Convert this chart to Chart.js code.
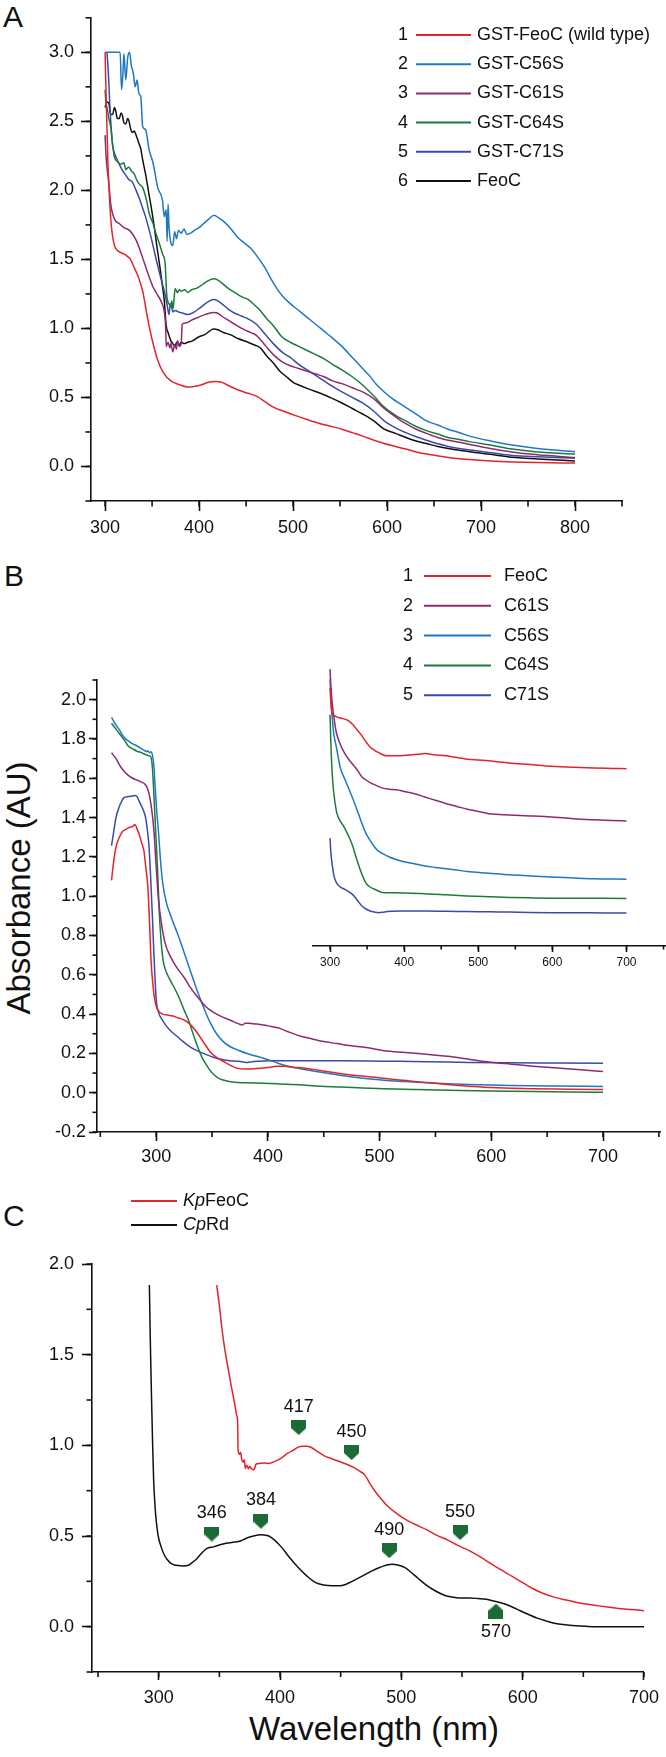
<!DOCTYPE html>
<html>
<head>
<meta charset="utf-8">
<script src="https://cdn.jsdelivr.net/npm/chart.js@4.4.1/dist/chart.umd.min.js"></script>
<style>
  body { margin: 0; width: 666px; height: 1757px; background: #fff; position: relative; overflow: hidden;
         font-family: 'Liberation Sans', Arial, sans-serif; color: #111; }
  canvas { position: absolute; }
  .panel { position: absolute; font-size: 30px; line-height: 30px; }
  .title { position: absolute; font-size: 33px; line-height: 40px; text-align: center; white-space: nowrap; }
</style>
</head>
<body>
<div class="panel" style="left:3px;top:2px">A</div>
<div class="panel" style="left:4px;top:561px">B</div>
<div class="panel" style="left:3px;top:1201px">C</div>
<div class="title" style="left:-131px;top:868px;width:300px;transform:rotate(-90deg)">Absorbance (AU)</div>
<div class="title" style="left:124px;top:1709px;width:500px">Wavelength (nm)</div>

<canvas id="chartA" width="666" height="560" style="left:0;top:0"></canvas>
<canvas id="chartB" width="666" height="620" style="left:0;top:560px"></canvas>
<canvas id="chartInset" width="416" height="340" style="left:250px;top:640px"></canvas>
<canvas id="chartC" width="666" height="577" style="left:0;top:1180px"></canvas>

<script>
// ---- panel A: GST fusions, [wavelength nm, absorbance] ----
var aLabels = ['GST-FeoC (wild type)', 'GST-C56S', 'GST-C61S', 'GST-C64S', 'GST-C71S', 'FeoC'];
var aWildType = [[300,3.0],[301,2.7],[303,2.2],[305,1.9],[307,1.72],[310,1.6],[314,1.56],[320,1.54],[324,1.52],[327,1.50],[331,1.44],[335,1.38],[340,1.27],[345,1.08],[350,0.92],[356,0.77],[362,0.68],[370,0.62],[380,0.59],[388,0.575],[395,0.58],[402,0.59],[410,0.61],[417,0.615],[424,0.61],[433,0.58],[443,0.55],[452,0.53],[461,0.51],[470,0.47],[479,0.43],[490,0.40],[502,0.37],[515,0.34],[529,0.31],[541,0.29],[552,0.27],[563,0.245],[574,0.22],[586,0.19],[597,0.166],[609,0.145],[620,0.126],[631,0.105],[642,0.09],[665,0.065],[688,0.05],[710,0.04],[733,0.033],[760,0.028],[800,0.025]];
var aC56S = [[300,3.0],[302,3.0],[305,3.0],[309,3.0],[313,3.0],[316,3.0],[317.5,2.73],[319,2.85],[320,2.99],[322,2.8],[324,2.96],[326,3.0],[328,2.9],[330,2.85],[332,2.75],[334,2.8],[336,2.7],[338,2.68],[340,2.46],[343,2.44],[347,2.29],[351,2.2],[356,2.02],[361,1.93],[363,1.81],[365,1.86],[366,1.63],[367,1.9],[368,1.74],[370,1.62],[372,1.60],[374,1.7],[376,1.65],[378,1.71],[381,1.69],[384,1.72],[387,1.68],[391,1.69],[395,1.71],[400,1.73],[405,1.76],[410,1.79],[416,1.82],[421,1.80],[427,1.77],[434,1.72],[441,1.66],[448,1.62],[455,1.58],[462,1.52],[470,1.44],[479,1.33],[488,1.24],[497,1.18],[506,1.13],[515,1.08],[524,1.03],[533,0.98],[542,0.93],[552,0.87],[563,0.79],[574,0.71],[581,0.66],[588,0.60],[597,0.54],[606,0.49],[615,0.45],[624,0.41],[633,0.37],[642,0.33],[654,0.30],[665,0.27],[677,0.245],[688,0.22],[710,0.185],[733,0.155],[760,0.13],[800,0.107]];
var aC61S = [[300,2.40],[301,2.25],[304,2.05],[306,1.9],[308,1.83],[311,1.78],[315,1.76],[320,1.73],[326,1.71],[333,1.64],[337,1.57],[342,1.47],[346,1.39],[351,1.30],[356,1.24],[360,1.19],[363,1.12],[364.5,1.0],[365,0.87],[367,0.9],[369,0.86],[370,0.89],[372,0.83],[374,0.88],[376,0.85],[377,0.91],[379,0.87],[381,0.89],[382,1.03],[386,1.04],[392,1.06],[399,1.08],[406,1.10],[415,1.115],[420,1.11],[424,1.09],[431,1.06],[438,1.03],[447,0.995],[455,0.97],[461,0.95],[470,0.88],[479,0.81],[488,0.76],[497,0.73],[506,0.71],[515,0.69],[524,0.67],[533,0.65],[542,0.62],[552,0.60],[563,0.57],[574,0.54],[586,0.49],[597,0.42],[609,0.36],[620,0.31],[631,0.27],[642,0.24],[654,0.21],[665,0.19],[677,0.175],[688,0.16],[710,0.13],[733,0.105],[760,0.085],[800,0.065]];
var aC64S = [[300,2.73],[301,2.62],[302,2.6],[304,2.52],[306,2.46],[308,2.33],[310,2.24],[313,2.21],[317,2.19],[320,2.2],[322,2.15],[325,2.17],[328,2.14],[331,2.12],[334,2.07],[337,2.04],[340,2.02],[344,1.93],[347,1.83],[351,1.76],[354,1.69],[358,1.61],[361,1.54],[364,1.46],[365.5,1.25],[367,1.19],[369,1.17],[370,1.155],[371,1.2],[372,1.14],[373,1.18],[374.5,1.29],[377,1.26],[379,1.28],[381,1.27],[385,1.28],[388,1.26],[392,1.28],[397,1.29],[402,1.31],[406,1.33],[411,1.35],[416,1.36],[420,1.35],[424,1.33],[431,1.29],[438,1.26],[445,1.23],[452,1.21],[459,1.17],[465,1.13],[472,1.07],[479,1.02],[488,0.94],[497,0.90],[506,0.87],[515,0.84],[524,0.81],[533,0.78],[542,0.74],[552,0.70],[563,0.65],[574,0.59],[586,0.51],[597,0.43],[609,0.37],[620,0.33],[631,0.29],[642,0.26],[654,0.235],[665,0.21],[677,0.195],[688,0.18],[710,0.155],[733,0.126],[760,0.105],[800,0.09]];
var aC71S = [[302,3.0],[303.5,2.85],[305,2.62],[306,2.5],[308,2.33],[310,2.27],[313,2.22],[315,2.19],[318,2.15],[322,2.11],[325,2.08],[329,2.06],[333,2.0],[336,1.95],[340,1.87],[343,1.81],[347,1.71],[351,1.60],[354,1.51],[358,1.40],[361,1.32],[363,1.27],[366,1.17],[368,1.10],[369,1.16],[370,1.18],[372,1.12],[374.5,1.13],[378,1.12],[383,1.11],[388,1.10],[395,1.12],[402,1.155],[409,1.19],[415,1.21],[420,1.20],[424,1.18],[431,1.14],[438,1.11],[445,1.09],[452,1.07],[461,1.03],[470,0.96],[479,0.89],[488,0.83],[497,0.79],[506,0.74],[515,0.70],[524,0.66],[533,0.62],[542,0.58],[552,0.54],[563,0.50],[574,0.46],[586,0.40],[597,0.33],[609,0.28],[620,0.245],[631,0.215],[642,0.19],[654,0.165],[665,0.145],[677,0.13],[688,0.12],[710,0.1],[733,0.08],[760,0.07],[800,0.06]];
var aFeoC = [[300,2.6],[302,2.64],[304,2.63],[306,2.55],[308,2.55],[310,2.6],[311.5,2.57],[313,2.52],[315,2.52],[317,2.56],[318.5,2.54],[320,2.49],[322,2.48],[324,2.52],[325.5,2.50],[327,2.45],[329,2.42],[331,2.43],[333,2.40],[336,2.34],[338,2.30],[340,2.22],[343,2.12],[346,2.0],[349,1.88],[352,1.75],[355,1.6],[358,1.46],[361,1.31],[363,1.20],[365,1.02],[367,0.97],[370,0.91],[372,0.89],[374.5,0.87],[376,0.9],[379,0.88],[381,0.9],[384,0.89],[388,0.9],[393,0.91],[400,0.94],[406,0.955],[411,0.98],[415,0.995],[420,0.99],[426,0.97],[433,0.955],[442,0.925],[452,0.90],[459,0.88],[465,0.86],[472,0.80],[479,0.75],[486,0.69],[493,0.65],[500,0.61],[506,0.59],[517,0.56],[529,0.53],[541,0.495],[552,0.46],[563,0.42],[574,0.38],[586,0.33],[597,0.27],[609,0.24],[620,0.21],[631,0.185],[642,0.166],[654,0.145],[665,0.13],[677,0.118],[688,0.107],[710,0.088],[733,0.067],[760,0.055],[800,0.04]];

// ---- panel B: untagged proteins ----
var bLabels = ['FeoC', 'C61S', 'C56S', 'C64S', 'C71S'];
var bFeoC = [[260,1.08],[262,1.18],[264,1.25],[267,1.30],[270,1.33],[273,1.34],[276,1.35],[279,1.355],[281,1.365],[283,1.34],[285,1.31],[287,1.27],[289,1.23],[291,1.13],[292.5,1.05],[294,0.87],[295,0.72],[296,0.62],[298,0.50],[300,0.44],[303,0.41],[306,0.40],[310,0.395],[315,0.39],[320,0.38],[325,0.37],[330,0.35],[336,0.31],[342,0.26],[348,0.21],[354,0.18],[360,0.16],[366,0.14],[372,0.125],[380,0.12],[390,0.123],[400,0.128],[408,0.135],[415,0.134],[422,0.13],[435,0.123],[450,0.11],[466,0.096],[481,0.086],[496,0.078],[511,0.068],[527,0.06],[545,0.05],[561,0.042],[580,0.033],[599,0.027],[618,0.023],[637,0.02],[670,0.018],[700,0.016]];
var bC61S = [[260,1.73],[264,1.70],[268,1.66],[272,1.63],[275,1.615],[279,1.60],[283,1.59],[287,1.58],[290,1.57],[292,1.55],[294,1.51],[296,1.44],[298,1.33],[300,1.15],[302,0.985],[305,0.85],[308,0.76],[313,0.69],[318,0.64],[325,0.586],[330,0.54],[336,0.495],[344,0.44],[351,0.41],[359,0.386],[366,0.37],[374,0.35],[377,0.345],[380,0.354],[385,0.352],[390,0.35],[400,0.34],[409,0.33],[418,0.31],[428,0.29],[439,0.275],[450,0.26],[462,0.25],[473,0.24],[488,0.23],[504,0.214],[523,0.205],[542,0.196],[561,0.185],[580,0.17],[599,0.155],[618,0.145],[637,0.135],[656,0.127],[680,0.117],[700,0.108]];
var bC56S = [[260,1.91],[263,1.88],[267,1.846],[271,1.81],[275,1.79],[279,1.775],[283,1.764],[287,1.75],[290,1.74],[291.5,1.735],[292.5,1.74],[294,1.73],[295.5,1.735],[296.5,1.72],[298,1.66],[299,1.56],[300.5,1.43],[302,1.33],[304,1.17],[306,1.06],[309,0.97],[313,0.9],[317,0.84],[321,0.78],[325,0.713],[330,0.63],[336,0.53],[342,0.44],[348,0.36],[354,0.30],[360,0.26],[366,0.235],[374,0.215],[382,0.198],[390,0.185],[400,0.168],[409,0.15],[418,0.135],[428,0.123],[446,0.105],[466,0.087],[485,0.073],[504,0.063],[523,0.057],[542,0.051],[561,0.046],[580,0.042],[618,0.037],[660,0.034],[700,0.032]];
var bC64S = [[260,1.88],[264,1.85],[268,1.82],[272,1.79],[275,1.764],[279,1.75],[283,1.737],[287,1.73],[290.5,1.72],[293,1.715],[295,1.71],[296.5,1.66],[298,1.51],[299.5,1.33],[301,1.166],[302.5,0.95],[304,0.80],[306,0.68],[308,0.63],[313,0.568],[317,0.525],[321,0.477],[325,0.42],[329,0.368],[333,0.3],[337,0.235],[341,0.18],[344,0.15],[348,0.115],[352,0.09],[357,0.07],[363,0.06],[370,0.053],[380,0.05],[395,0.048],[409,0.045],[428,0.04],[447,0.033],[466,0.029],[485,0.024],[504,0.02],[533,0.016],[561,0.013],[599,0.009],[637,0.006],[670,0.004],[700,0.002]];
var bC71S = [[260,1.257],[262,1.33],[264,1.40],[266,1.44],[268,1.47],[271,1.50],[275,1.507],[279,1.51],[281,1.512],[283,1.505],[285,1.48],[287,1.456],[289,1.43],[290.5,1.40],[292,1.34],[293.5,1.257],[295,1.1],[296.6,0.894],[298,0.7],[300,0.477],[302,0.41],[305.7,0.368],[309,0.34],[313,0.314],[318,0.29],[323,0.265],[328.6,0.24],[336,0.215],[344,0.196],[351,0.18],[359,0.169],[366,0.163],[374,0.16],[379,0.155],[382,0.154],[386,0.158],[392,0.16],[400,0.162],[412,0.163],[428,0.163],[466,0.162],[504,0.16],[542,0.158],[580,0.154],[618,0.152],[660,0.151],[700,0.15]];

// ---- panel B inset (offset traces, unlabelled y) ----
var insFeoC = [[300,2.32],[301,2.2],[303,2.08],[306,2.07],[309,2.06],[314,2.05],[320,2.04],[326,2.02],[331,1.99],[337,1.94],[343,1.89],[348,1.84],[354,1.79],[360,1.76],[365.5,1.74],[371,1.72],[377,1.71],[385,1.71],[394,1.71],[402,1.715],[411,1.72],[420,1.725],[428,1.73],[440,1.72],[457,1.71],[471,1.695],[485,1.68],[500,1.672],[514,1.665],[528,1.655],[542,1.646],[570,1.632],[599,1.617],[628,1.607],[656,1.60],[680,1.597],[700,1.595]];
var insC61S = [[300,2.49],[301,2.35],[303,2.18],[306,2.02],[308.5,1.92],[314,1.81],[320,1.73],[326,1.67],[331,1.63],[337,1.58],[343,1.52],[348,1.495],[354,1.47],[362,1.445],[371,1.42],[380,1.41],[390,1.405],[400,1.39],[414,1.37],[428,1.34],[442,1.31],[457,1.28],[471,1.255],[485,1.23],[500,1.21],[514,1.19],[528,1.183],[542,1.178],[570,1.17],[599,1.16],[628,1.145],[656,1.135],[680,1.128],[700,1.125]];
var insC56S = [[300,2.40],[301,2.25],[303,2.05],[305,1.91],[308.5,1.79],[314,1.60],[320,1.50],[325.6,1.41],[331,1.32],[337,1.215],[342,1.12],[348,1.02],[354,0.95],[360,0.89],[365,0.855],[371,0.83],[380,0.80],[388,0.78],[396,0.765],[405,0.75],[417,0.735],[428,0.72],[442,0.707],[457,0.695],[471,0.683],[485,0.67],[514,0.655],[542,0.64],[570,0.63],[599,0.62],[628,0.612],[656,0.605],[700,0.60]];
var insC64S = [[300,2.08],[301,1.85],[303,1.54],[305,1.38],[308.5,1.215],[311,1.16],[314,1.12],[318,1.08],[322.8,1.02],[327,0.96],[331,0.89],[335,0.80],[340,0.70],[344,0.63],[348,0.57],[353,0.535],[360,0.51],[365,0.495],[371,0.48],[385,0.478],[400,0.476],[428,0.47],[457,0.46],[485,0.45],[514,0.443],[542,0.437],[570,0.433],[599,0.43],[650,0.429],[700,0.428]];
var insC71S = [[300,0.97],[301,0.85],[303,0.73],[305,0.64],[308.5,0.57],[314,0.53],[320,0.51],[326,0.485],[331,0.46],[337,0.41],[343,0.36],[348,0.335],[354,0.315],[360,0.305],[365.5,0.30],[371,0.303],[377,0.31],[385,0.313],[394,0.315],[428,0.315],[457,0.312],[485,0.31],[514,0.307],[542,0.305],[570,0.302],[599,0.30],[650,0.298],[700,0.296]];

// ---- panel C: KpFeoC vs CpRd ----
var cLabels = [['Kp', 'FeoC'], ['Cp', 'Rd']];
var cKpFeoC = [[347.8,1.884],[350,1.77],[352,1.65],[354,1.55],[357.3,1.42],[360,1.32],[362.6,1.23],[364.5,1.16],[365,1.14],[365.4,0.98],[366.5,0.95],[367.5,0.96],[368.5,0.92],[369.6,0.907],[370.5,0.92],[371.4,0.872],[372.5,0.89],[374,0.87],[375,0.884],[376.5,0.87],[378.4,0.865],[379.5,0.88],[380,0.895],[383,0.9],[387,0.902],[391,0.9],[394,0.907],[398,0.918],[401,0.93],[406,0.955],[411.8,0.977],[415,0.99],[418.8,0.995],[422,0.995],[425.8,0.988],[431,0.965],[436.4,0.942],[443,0.925],[450.4,0.907],[456,0.893],[461,0.877],[465,0.86],[469.8,0.837],[474,0.79],[478.6,0.744],[484,0.7],[489,0.663],[496,0.625],[503,0.593],[511,0.565],[520.7,0.535],[529,0.505],[538.3,0.477],[547,0.447],[555.9,0.419],[565,0.385],[573.5,0.349],[582,0.314],[591,0.279],[600,0.243],[608.6,0.209],[617,0.183],[626,0.163],[635,0.148],[643.8,0.135],[652,0.125],[661.3,0.116],[670,0.108],[679,0.1],[690,0.094],[700,0.088]];
var cCpRd = [[292.3,1.884],[293,1.6],[294,1.28],[295,1.0],[295.8,0.81],[297,0.66],[299.3,0.51],[302,0.44],[304.6,0.395],[307,0.37],[309.8,0.35],[313,0.34],[316.9,0.337],[320,0.335],[324,0.337],[327,0.35],[331,0.372],[334,0.395],[338,0.423],[341,0.435],[345,0.44],[350,0.45],[355.5,0.46],[361,0.465],[366,0.47],[370,0.48],[373,0.49],[378,0.5],[383.7,0.507],[387,0.505],[390.7,0.5],[395,0.48],[401,0.44],[408,0.38],[415,0.326],[422,0.28],[429,0.244],[436,0.23],[443.4,0.226],[449,0.226],[454,0.233],[461,0.255],[468,0.28],[475,0.305],[482,0.326],[488,0.34],[492.6,0.344],[497,0.34],[503,0.326],[508,0.3],[513.7,0.267],[520,0.232],[527.8,0.198],[535,0.175],[541.8,0.163],[548,0.158],[555.9,0.158],[563,0.155],[570,0.151],[577,0.14],[584,0.128],[591,0.11],[598,0.088],[605,0.067],[612,0.047],[619,0.032],[626,0.019],[635,0.01],[643.8,0.005],[652,0.002],[661,0],[680,0],[700,0]];
var peakNames = ['346', '384', '417', '450', '490', '550', '570'];
var peakX = [343.8, 384.3, 415.4, 459, 490, 548.4, 578];
var peakY = [0.511, 0.581, 1.098, 0.96, 0.419, 0.519, 0.086];
var peakUp = [false, false, false, false, false, false, true];

var RED = '#e3242b', BLUE = '#1f78c3', PURPLE = '#8c2b6f', GREEN = '#1d7a3e', VIOLET = '#3b4aa6', BLACK = '#111111';
var FONT = "'Liberation Sans', Arial, sans-serif";
Chart.defaults.font.family = FONT;
Chart.defaults.color = '#111';

function pts(pairs) {
    return pairs.map(function(p) { return { x: p[0], y: p[1] }; });
}

function trace(label, pairs, color) {
    return { label: label, data: pts(pairs), borderColor: color, backgroundColor: color, borderWidth: 1.5,
             pointRadius: 0, cubicInterpolationMode: 'monotone', fill: false };
}

function stepValues(min, max, step) {
    var out = [];
    for (var v = Math.ceil(min / step - 1e-9) * step; v <= max + 1e-9; v += step) {
        out.push(Math.round(v * 1000) / 1000);
    }
    return out;
}

// linear axis with major ticks only at multiples of step, and a fixed thickness
function axis(min, max, step, tickLen, pad, size, fontSize, fmt) {
    return {
        type: 'linear', min: min, max: max,
        border: { display: true, color: '#111', width: 1.6 },
        grid: { drawOnChartArea: false, drawTicks: true, tickLength: tickLen, tickColor: '#111', tickWidth: 1.6 },
        ticks: { padding: pad, autoSkip: false, maxRotation: 0, font: { size: fontSize }, color: '#111',
                 callback: fmt || function(v) { return v; } },
        afterBuildTicks: function(s) {
            s.ticks = stepValues(min, max, step).map(function(v) { return { value: v }; });
        },
        afterFit: function(s) {
            if (s.isHorizontal()) s.height = size; else s.width = size;
        }
    };
}

var minorTicks = {
    id: 'minorTicks',
    afterDraw: function(chart, args, opts) {
        var ctx = chart.ctx;
        ctx.save();
        ctx.strokeStyle = '#111';
        ctx.lineWidth = 1.6;
        (opts.axes || []).forEach(function(a) {
            var s = chart.scales[a[0]];
            stepValues(s.min, s.max, a[1]).forEach(function(v) {
                var p = s.getPixelForValue(v);
                ctx.beginPath();
                if (s.isHorizontal()) { ctx.moveTo(p, s.top); ctx.lineTo(p, s.top + a[2]); }
                else { ctx.moveTo(s.right, p); ctx.lineTo(s.right - a[2], p); }
                ctx.stroke();
            });
        });
        ctx.restore();
    }
};

// legend drawn as "n ——— label" rows
var rowLegend = {
    id: 'rowLegend',
    afterDraw: function(chart, args, o) {
        if (!o.rows) return;
        var ctx = chart.ctx;
        ctx.save();
        ctx.textBaseline = 'middle';
        var row = 0;
        chart.data.datasets.forEach(function(ds) {
            if (ds.noLegend) return;
            var y = o.y + row * o.dy;
            if (o.numX) {
                ctx.font = o.size + 'px ' + FONT;
                ctx.fillStyle = '#111';
                ctx.textAlign = 'center';
                ctx.fillText(String(row + 1), o.numX, y);
            }
            ctx.strokeStyle = ds.borderColor;
            ctx.lineWidth = 2;
            ctx.beginPath(); ctx.moveTo(o.x1, y); ctx.lineTo(o.x2, y); ctx.stroke();
            ctx.textAlign = 'left';
            ctx.fillStyle = '#111';
            var tx = o.tx;
            if (ds.italicPart) {
                ctx.font = 'italic ' + o.size + 'px ' + FONT;
                ctx.fillText(ds.italicPart, tx, y);
                tx += ctx.measureText(ds.italicPart).width;
            }
            ctx.font = o.size + 'px ' + FONT;
            ctx.fillText(ds.labelRest || ds.label, tx, y);
            row++;
        });
        ctx.restore();
    }
};

var peakText = {
    id: 'peakText',
    afterDatasetsDraw: function(chart) {
        var ctx = chart.ctx, xs = chart.scales.x, ys = chart.scales.y;
        ctx.save();
        ctx.font = '18px ' + FONT;
        ctx.fillStyle = '#111';
        ctx.textAlign = 'center';
        ctx.textBaseline = 'middle';
        peakNames.forEach(function(name, i) {
            var px = xs.getPixelForValue(peakX[i]);
            var py = ys.getPixelForValue(peakY[i]);
            ctx.fillText(name, px, peakUp[i] ? py + 21 : py - 21);
        });
        ctx.restore();
    }
};

function shield(up) {
    var c = document.createElement('canvas');
    c.width = 15; c.height = 15;
    var g = c.getContext('2d');
    g.fillStyle = '#1b6b36';
    g.beginPath();
    if (!up) { g.moveTo(0, 0); g.lineTo(15, 0); g.lineTo(15, 8); g.lineTo(7.5, 15); g.lineTo(0, 8); }
    else { g.moveTo(0, 15); g.lineTo(15, 15); g.lineTo(15, 7); g.lineTo(7.5, 0); g.lineTo(0, 7); }
    g.closePath();
    g.fill();
    return c;
}

function fixed1(v) { return v.toFixed(1); }

// ---- Panel A ----
new Chart(document.getElementById('chartA'), {
    type: 'line',
    data: { datasets: [
        trace(aLabels[0], aWildType, RED),
        trace(aLabels[1], aC56S, BLUE),
        trace(aLabels[2], aC61S, PURPLE),
        trace(aLabels[3], aC64S, GREEN),
        trace(aLabels[4], aC71S, VIOLET),
        trace(aLabels[5], aFeoC, BLACK)
    ] },
    options: {
        responsive: false, animation: false, events: [],
        layout: { padding: { top: 17, right: 44, left: 0, bottom: 0 } },
        scales: {
            x: axis(285, 850, 100, 10, 6, 59, 18),
            y: axis(-0.25, 3.25, 0.5, 10, 7, 91, 18, fixed1)
        },
        plugins: {
            legend: { display: false }, tooltip: { enabled: false },
            minorTicks: { axes: [['x', 50, 5.5], ['y', 0.25, 5.5]] },
            rowLegend: { rows: true, numX: 403, x1: 416, x2: 471, tx: 477, y: 35, dy: 29.2, size: 18 }
        }
    },
    plugins: [minorTicks, rowLegend]
});

// ---- Panel B ----
new Chart(document.getElementById('chartB'), {
    type: 'line',
    data: { datasets: [
        trace(bLabels[0], bFeoC, RED),
        trace(bLabels[1], bC61S, PURPLE),
        trace(bLabels[2], bC56S, BLUE),
        trace(bLabels[3], bC64S, GREEN),
        trace(bLabels[4], bC71S, VIOLET)
    ] },
    options: {
        responsive: false, animation: false, events: [],
        layout: { padding: { top: 120, right: 6, left: 0, bottom: 0 } },
        scales: {
            x: axis(247, 751, 100, 9, 5, 48, 18),
            y: axis(-0.2, 2.1, 0.2, 8, 3, 97, 18, fixed1)
        },
        plugins: {
            legend: { display: false }, tooltip: { enabled: false },
            minorTicks: { axes: [['x', 50, 5], ['y', 0.1, 4.5]] },
            rowLegend: { rows: true, numX: 408, x1: 424, x2: 491, tx: 504, y: 16, dy: 29.8, size: 18 }
        }
    },
    plugins: [minorTicks, rowLegend]
});

// ---- Panel B inset ----
new Chart(document.getElementById('chartInset'), {
    type: 'line',
    data: { datasets: [
        trace(bLabels[0], insFeoC, RED),
        trace(bLabels[1], insC61S, PURPLE),
        trace(bLabels[2], insC56S, BLUE),
        trace(bLabels[3], insC64S, GREEN),
        trace(bLabels[4], insC71S, VIOLET)
    ] },
    options: {
        responsive: false, animation: false, events: [],
        layout: { padding: { top: 28, right: 1, left: 63, bottom: 0 } },
        scales: {
            x: axis(277, 752, 100, 6, 3, 34, 12),
            y: { type: 'linear', min: 0, max: 2.5, display: false }
        },
        plugins: {
            legend: { display: false }, tooltip: { enabled: false },
            minorTicks: { axes: [['x', 50, 3.5]] }
        }
    },
    plugins: [minorTicks]
});

// ---- Panel C ----
var cRed = trace(cLabels[0].join(''), cKpFeoC, RED);
cRed.italicPart = cLabels[0][0]; cRed.labelRest = cLabels[0][1];
var cBlack = trace(cLabels[1].join(''), cCpRd, BLACK);
cBlack.italicPart = cLabels[1][0]; cBlack.labelRest = cLabels[1][1];
var peaks = {
    label: 'peaks', noLegend: true, showLine: false,
    data: peakX.map(function(x, i) { return { x: x, y: peakY[i] }; }),
    pointStyle: peakUp.map(function(u) { return shield(u); }),
    pointRadius: 8, borderWidth: 0
};

new Chart(document.getElementById('chartC'), {
    type: 'line',
    data: { datasets: [cRed, cBlack, peaks] },
    options: {
        responsive: false, animation: false, events: [],
        layout: { padding: { top: 84, right: 20, left: 0, bottom: 0 } },
        scales: {
            x: axis(245, 700, 100, 8, 7, 85, 18),
            y: axis(-0.25, 2.0, 0.5, 10, 8, 92, 18, fixed1)
        },
        plugins: {
            legend: { display: false }, tooltip: { enabled: false },
            minorTicks: { axes: [['x', 50, 5], ['y', 0.25, 5.5]] },
            rowLegend: { rows: true, x1: 131, x2: 177, tx: 183, y: 21, dy: 24, size: 18 }
        }
    },
    plugins: [minorTicks, rowLegend, peakText]
});
</script>
</body>
</html>
